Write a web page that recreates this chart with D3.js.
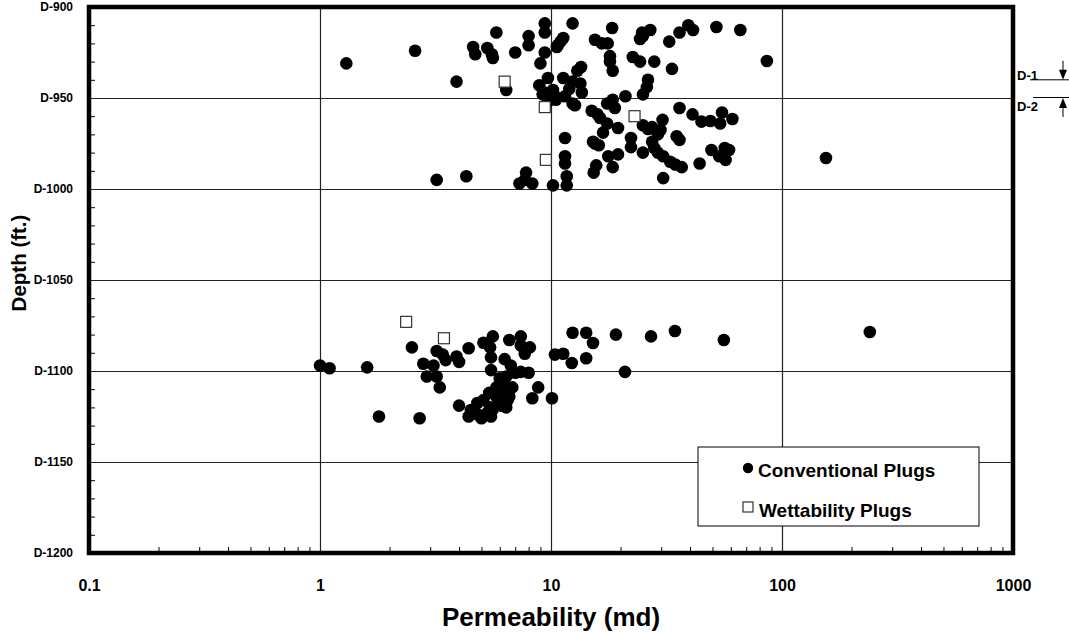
<!DOCTYPE html>
<html><head><meta charset="utf-8">
<script src="https://cdn.jsdelivr.net/npm/d3@7"></script>
<style>
html,body{margin:0;padding:0;background:#fff;}
text{font-family:Arial,"Liberation Sans",sans-serif;font-weight:bold;fill:#000;}
</style></head><body>
<svg id="chart" width="1069" height="632"></svg>
<script>
// ---- data ----
const xTickValues = [0.1, 1, 10, 100, 1000];
const xTickLabels = ["0.1", "1", "10", "100", "1000"];
const yTickValues = [900, 950, 1000, 1050, 1100, 1150, 1200];
const yTickLabels = ["D-900", "D-950", "D-1000", "D-1050", "D-1100", "D-1150", "D-1200"];
const seriesNames = ["Conventional Plugs", "Wettability Plugs"];

// Conventional plugs: permeability (md)
const convPerm = [
 1.3, 2.58, 3.9, 4.6, 4.7, 5.3, 5.55, 5.6, 5.8, 7.0, 8.0, 8.0, 9.4, 9.4, 9.4, 9.0, 10.7, 11.3, 11.0, 12.4,
 6.4, 8.9, 9.2, 10.2, 9.7, 9.4, 10.4, 11.3, 12.4, 11.5, 12.4, 13.0, 13.4, 13.6, 12.7, 13.5, 18.5, 18.0, 26.3, 26.0,
 25.0, 21.0, 33.4, 86, 15.0, 16.3, 17.5, 18.5, 18.9, 17.5, 16.8, 15.2, 16.1, 19.5, 11.5, 17.7, 19.5, 18.5, 15.7, 15.3,
 11.5, 11.5, 11.7, 11.7, 10.2, 25.0, 26.3, 27.4, 30.4, 29.8, 29.0, 22.2, 22.2, 25.0, 27.4, 28.0, 29.0, 30.6, 32.8, 34.5,
 36.8, 30.6, 44, 35, 36, 36, 41, 44.8, 49, 54, 55, 61, 49.5, 53.5, 57, 59, 56.5, 155, 3.2, 4.3,
 7.8, 7.3, 8.3, 7.7, 15.5, 16.6, 17.6, 18.0, 18.4, 22.6, 24.3, 28.0, 24.8, 25.0, 24.3, 26.9, 32.5, 36, 39.3, 41.2,
 52, 66, 10.6, 10.5, 9.7, 12.0, 15.9, 15.5,
 // lower zone
 1.0, 1.1, 1.6, 1.8, 2.7, 2.5, 2.8, 3.1, 2.9, 3.2, 3.3, 3.2, 3.4, 3.5, 3.9, 4.0, 4.4, 4.0, 5.1, 5.6,
 5.45, 5.5, 5.5, 6.6, 7.4, 7.4, 8.1, 7.7, 6.3, 6.7, 7.4, 8.0, 8.8, 8.3, 10.1, 10.4, 11.3, 12.3, 12.4, 14.2,
 15.2, 19.1, 27.1, 34.4, 56, 240, 14.2, 20.9, 6.0, 6.4, 6.8, 6.6, 6.4, 5.8, 5.8, 5.45, 5.1, 4.8, 4.5, 4.4,
 4.85, 5.3, 5.6, 6.1, 6.5, 6.2, 6.2, 5.5, 5.0, 7.0, 6.0, 5.9, 5.4
];
// Conventional plugs: depth (ft)
const convDepth = [
 931, 924, 941, 922, 926, 922.5, 926, 928, 914, 925, 916, 921, 909, 914, 925, 931, 921, 917, 919, 909,
 945.6, 943, 948, 945.6, 939, 947, 949, 939, 941, 949, 953, 935, 942, 947, 954, 933, 935, 930, 940, 944,
 948, 949, 934, 929.7, 957, 961, 953, 951, 955.5, 964, 969, 974, 976, 966.5, 972, 982, 981, 988, 987, 991,
 982, 986, 993, 998, 998, 965, 967, 966, 962, 967.6, 970, 972, 977, 980, 974, 977.5, 980, 982, 985, 986.5,
 988, 994, 986, 971, 973, 955.5, 959, 963, 962.6, 964, 958, 961.5, 978.6, 982, 984, 978.6, 977.5, 983, 995, 993,
 991, 997, 997, 995, 918, 920, 920, 927, 911.5, 927.5, 930, 930, 914, 916, 917.6, 912.6, 919, 914, 910, 912.6,
 911, 912.6, 922, 951, 952, 945, 959, 975,
 1097, 1098.5, 1098, 1125, 1126, 1087, 1096, 1097, 1103, 1103, 1109, 1089, 1091, 1094, 1092, 1095, 1087.5, 1119, 1084.5, 1081,
 1087, 1092.5, 1099.5, 1083, 1081, 1086, 1087, 1090.5, 1093.5, 1097, 1100.5, 1101, 1109, 1115, 1115, 1091, 1090.5, 1095.6, 1079, 1079,
 1084.6, 1080, 1081, 1078, 1083, 1078.6, 1093, 1100.5, 1104, 1103, 1109, 1114, 1120, 1109, 1114, 1120, 1116, 1117.6, 1121.4, 1125,
 1124, 1123, 1121, 1119, 1116, 1112, 1106.6, 1125, 1126, 1101, 1110, 1118, 1112
];
// Wettability plugs
const wetPerm = [6.3, 9.4, 9.5, 23, 2.36, 3.44];
const wetDepth = [941, 955, 984, 960, 1073, 1082];

// Zone markers on the right edge
const zoneNames = ["D-1", "D-2"];
const zoneDepth = [940, 950];

// ---- chart ----
const svg = d3.select("#chart");
const L = 89, R = 1013, T = 7, B = 553;
const x = d3.scaleLog().domain([0.1, 1000]).range([L, R]);
const y = d3.scaleLinear().domain([900, 1200]).range([T, B]);

// minor ticks
const xMinor = [];
[0.1, 1, 10, 100].forEach(b => { for (let k = 2; k <= 9; k++) xMinor.push(b * k); });
const yMinor = d3.range(900, 1201, 10).filter(v => v % 50 !== 0);

const g = svg.append("g");

// grid lines
g.append("g").attr("transform", `translate(0,${B})`)
 .call(d3.axisBottom(x).tickValues([1, 10, 100]).tickSize(-(B - T)).tickFormat(""))
 .call(a => a.select(".domain").remove())
 .selectAll("line").attr("stroke", "#222").attr("stroke-width", 1.2);
g.append("g").attr("transform", `translate(${L},0)`)
 .call(d3.axisLeft(y).tickValues([950, 1000, 1050, 1100, 1150]).tickSize(-(R - L)).tickFormat(""))
 .call(a => a.select(".domain").remove())
 .selectAll("line").attr("stroke", "#222").attr("stroke-width", 1.2);

// minor ticks (inside)
g.append("g").attr("transform", `translate(0,${B})`)
 .call(d3.axisBottom(x).tickValues(xMinor).tickSize(-6).tickFormat(""))
 .call(a => a.select(".domain").remove())
 .selectAll("line").attr("stroke", "#000").attr("stroke-width", 1);
g.append("g").attr("transform", `translate(${L},0)`)
 .call(d3.axisLeft(y).tickValues(yMinor).tickSize(-6).tickFormat(""))
 .call(a => a.select(".domain").remove())
 .selectAll("line").attr("stroke", "#000").attr("stroke-width", 1);

// tick labels
const xa = g.append("g").attr("transform", `translate(0,${B})`)
 .call(d3.axisBottom(x).tickValues(xTickValues).tickSize(0).tickPadding(27)
   .tickFormat((d, i) => xTickLabels[i]));
xa.select(".domain").remove();
xa.selectAll("text").style("font-size", "16px").style("font-family", "Arial, 'Liberation Sans', sans-serif").style("font-weight", "bold");

const ya = g.append("g").attr("transform", `translate(${L},0)`)
 .call(d3.axisLeft(y).tickValues(yTickValues).tickSize(0).tickPadding(16)
   .tickFormat((d, i) => yTickLabels[i]));
ya.select(".domain").remove();
ya.selectAll("text").style("font-size", "12px").style("font-family", "Arial, 'Liberation Sans', sans-serif").style("font-weight", "bold");

// points
const conv = convPerm.map((p, i) => ({p, d: convDepth[i]}));
const wet = wetPerm.map((p, i) => ({p, d: wetDepth[i]}));
g.append("g").selectAll("circle").data(conv).join("circle")
 .attr("cx", d => x(d.p)).attr("cy", d => y(d.d)).attr("r", 6.3).attr("fill", "#000");
g.append("g").selectAll("rect").data(wet).join("rect")
 .attr("x", d => x(d.p) - 5.5).attr("y", d => y(d.d) - 5.5).attr("width", 11).attr("height", 11)
 .attr("fill", "#fff").attr("stroke", "#333").attr("stroke-width", 1.2);

// frame
g.append("rect").attr("x", L).attr("y", T).attr("width", R - L).attr("height", B - T)
 .attr("fill", "none").attr("stroke", "#000").attr("stroke-width", 4.5);

// axis titles
svg.append("text").attr("x", (L + R) / 2).attr("y", 626).attr("text-anchor", "middle")
 .style("font-size", "26px").text("Permeability (md)");
svg.append("text").attr("transform", `translate(26,${(T + B) / 2 - 17}) rotate(-90)`).attr("text-anchor", "middle")
 .style("font-size", "20.5px").text("Depth (ft.)");

// legend
const lg = svg.append("g");
lg.append("rect").attr("x", 698).attr("y", 447).attr("width", 281).attr("height", 79)
 .attr("fill", "#fff").attr("stroke", "#000").attr("stroke-width", 1);
lg.append("circle").attr("cx", 748).attr("cy", 468).attr("r", 5.2).attr("fill", "#000");
lg.append("text").attr("x", 758).attr("y", 477).style("font-size", "19px").text(seriesNames[0]);
lg.append("rect").attr("x", 743).attr("y", 502).attr("width", 10).attr("height", 10)
 .attr("fill", "#fff").attr("stroke", "#333").attr("stroke-width", 1.2);
lg.append("text").attr("x", 759).attr("y", 517).style("font-size", "19px").text(seriesNames[1]);

// zone markers
const zg = svg.append("g");
const ax = 1063;
// D-1
zg.append("text").attr("x", 1017).attr("y", y(zoneDepth[0]) + 0.5).style("font-size", "13px").text(zoneNames[0]);
zg.append("line").attr("x1", 1030).attr("x2", 1069).attr("y1", y(zoneDepth[0])).attr("y2", y(zoneDepth[0])).attr("stroke", "#000").attr("stroke-width", 1);
zg.append("line").attr("x1", ax).attr("x2", ax).attr("y1", y(zoneDepth[0]) - 19).attr("y2", y(zoneDepth[0]) - 6).attr("stroke", "#000").attr("stroke-width", 1);
zg.append("path").attr("d", `M${ax - 4},${y(zoneDepth[0]) - 10} L${ax + 4},${y(zoneDepth[0]) - 10} L${ax},${y(zoneDepth[0])} Z`).attr("fill", "#000");
// D-2
zg.append("text").attr("x", 1017).attr("y", y(zoneDepth[1]) + 13).style("font-size", "13px").text(zoneNames[1]);
zg.append("line").attr("x1", 1033).attr("x2", 1069).attr("y1", y(zoneDepth[1]) - 0.5).attr("y2", y(zoneDepth[1]) - 0.5).attr("stroke", "#000").attr("stroke-width", 1);
zg.append("line").attr("x1", ax).attr("x2", ax).attr("y1", y(zoneDepth[1]) + 6).attr("y2", y(zoneDepth[1]) + 19).attr("stroke", "#000").attr("stroke-width", 1);
zg.append("path").attr("d", `M${ax - 4},${y(zoneDepth[1]) + 10} L${ax + 4},${y(zoneDepth[1]) + 10} L${ax},${y(zoneDepth[1])} Z`).attr("fill", "#000");
</script>
</body></html>
